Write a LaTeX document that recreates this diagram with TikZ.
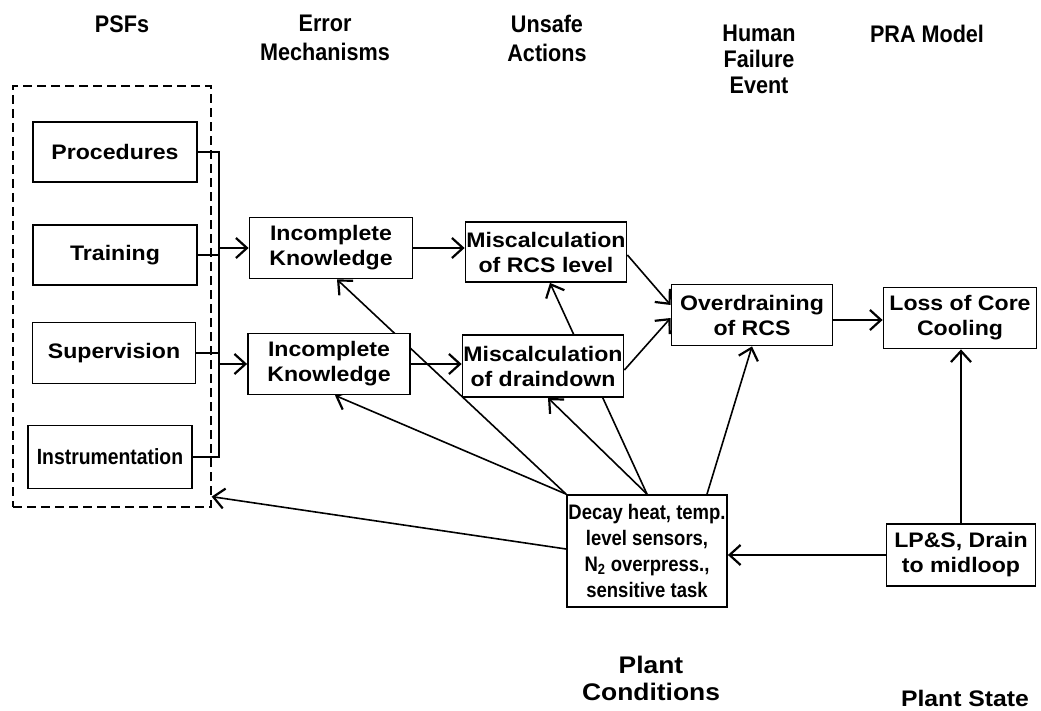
\documentclass[tikz,border=0pt]{standalone}
\usepackage{fontspec}
\setmainfont{Liberation Sans}
\newfontfamily\boxf{Liberation Sans}[FakeStretch=1.1]
\newfontfamily\titf{Liberation Sans}[FakeStretch=0.9]
\newfontfamily\narf{Liberation Sans}[FakeStretch=0.88]
\usetikzlibrary{arrows.meta,backgrounds}
\begin{document}
\begin{tikzpicture}[x=1pt,y=-1pt,
  box/.style={draw, line width=1.8pt, fill=white, inner sep=0pt, align=center,
    font=\boxf\bfseries\fontsize{21}{25}\selectfont},
  ttl/.style={inner sep=0pt, align=center, font=\titf\bfseries\fontsize{24}{27}\selectfont},
  conn/.style={line width=1.6pt},
  arr/.style={conn, -{Straight Barb[length=11pt,width=20pt,line width=2.2pt]}}]
\useasboundingbox (0,0) rectangle (1041,711);

% titles
\node[ttl] (tpsf) at (122,24) {PSFs};
\node[ttl, font=\titf\bfseries\fontsize{24}{29}\selectfont] (terr) at (325,38) {Error\\Mechanisms};
\node[ttl, font=\titf\bfseries\fontsize{24}{29}\selectfont] (tuns) at (547,38) {Unsafe\\Actions};
\node[ttl, font=\titf\bfseries\fontsize{24}{26}\selectfont] (thum) at (759,59) {Human\\Failure\\Event};
\node[ttl] (tpra) at (927,34) {PRA Model};
\node[ttl, font=\boxf\bfseries\fontsize{24}{27}\selectfont] (tpc) at (651,678) {Plant\\Conditions};
\node[ttl, font=\boxf\bfseries\fontsize{22.5}{27}\selectfont] (tps) at (965,698) {Plant State};

% PSF group
\node[draw, dash pattern=on 9pt off 5pt, line width=1.3pt, minimum width=198pt,
      minimum height=421pt, inner sep=0pt] (psf) at (112,296.5) {};
\node[box, minimum width=164pt, minimum height=60pt] (proc) at (115,152) {Procedures};
\node[box, minimum width=164pt, minimum height=60pt] (train) at (115,255) {Training};
\node[box, minimum width=163pt, minimum height=61pt] (superv) at (114,353) {Supervision};
\node[box, minimum width=164pt, minimum height=63pt,
      font=\narf\bfseries\fontsize{22}{25}\selectfont] (instr) at (110,457) {Instrumentation};

% main boxes
\node[box, minimum width=163pt, minimum height=61pt] (ik1) at (331,248) {Incomplete\\Knowledge};
\node[box, minimum width=162pt, minimum height=61pt] (ik2) at (329,364) {Incomplete\\Knowledge};
\node[box, minimum width=161pt, minimum height=60pt] (mrcs) at (546,252) {Miscalculation\\of RCS level};
\node[box, minimum width=161pt, minimum height=62pt] (md) at (543,366) {Miscalculation\\of draindown};
\node[box, minimum width=161pt, minimum height=61pt] (over) at (752,315) {Overdraining\\of RCS};
\node[box, minimum width=153pt, minimum height=61pt] (lcc) at (960,318) {Loss of Core\\Cooling};
\node[box, minimum width=149pt, minimum height=62pt] (lps) at (961,555) {LP\&S, Drain\\to midloop};
\node[box, minimum width=160pt, minimum height=112pt,
      font=\narf\bfseries\fontsize{21}{26}\selectfont] (decay) at (647,551)
      {Decay heat, temp.\\level sensors,\\N\textsubscript{2} overpress.,\\sensitive task};

\coordinate (bus) at (219,0);

\begin{scope}[on background layer]
\draw[conn] (proc.east) -- (proc.east -| bus) -- (instr.east -| bus) -- (instr.east);
\draw[conn] (train.east) -- (train.east -| bus);
\draw[conn] (superv.east) -- (superv.east -| bus);
\draw[arr] (ik1.west -| bus) -- (ik1.west);
\draw[arr] (ik2.west -| bus) -- (ik2.west);
\draw[arr] (ik1.east) -- (ik1.east -| mrcs.west);
\draw[arr] (ik2.east) -- (ik2.east -| md.west);
\draw[arr] ([yshift=-3pt]mrcs.east) -- ([yshift=10pt]over.west);
\draw[arr] ([yshift=-4pt]md.east) -- ([yshift=-3pt]over.west);
\draw[arr] ([yshift=-2pt]lcc.west -| over.east) -- ([yshift=-2pt]lcc.west);
\draw[arr] (lps.north) -- (lps.north |- lcc.south);
\draw[arr] (lps.west) -- (lps.west -| decay.east);
\draw[arr] (decay.north west) -- ([xshift=6pt]ik1.south);
\draw[arr] (decay.north west) -- ([xshift=6pt]ik2.south);
\draw[arr] (decay.north) -- ([xshift=5pt]md.south);
\draw[arr] (decay.north) -- ([xshift=4pt]mrcs.south);
\draw[arr] ([xshift=60pt]decay.north) -- (over.south);
\draw[arr] ([yshift=2pt]decay.west) -- ([yshift=11pt]psf.south east);
\end{scope}
\end{tikzpicture}
\end{document}
